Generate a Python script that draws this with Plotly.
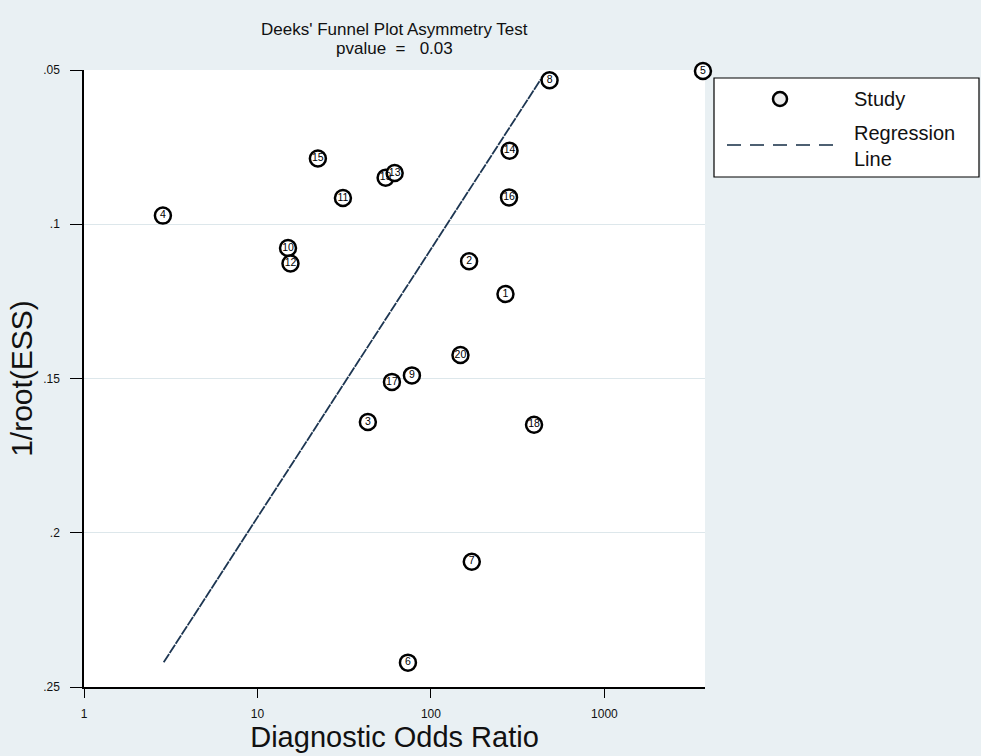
import plotly.graph_objects as go

# ---- data ----
study_ids = ["1", "2", "3", "4", "5", "6", "7", "8", "9", "10",
             "11", "12", "13", "14", "15", "16", "17", "18", "19", "20"]
dor = [269, 166, 43.3, 2.85, 3700, 73.7, 172, 483, 77.7, 15.0,
       31.1, 15.5, 61.8, 284, 22.3, 282, 59.6, 393, 54.8, 148]
inv_root_ess = [0.1226, 0.1120, 0.1641, 0.0972, 0.0503, 0.2421, 0.2094, 0.0533, 0.1490, 0.1077,
                0.0915, 0.1127, 0.0834, 0.0762, 0.0787, 0.0913, 0.1511, 0.1650, 0.0849, 0.1424]

reg_x = [2.88, 430]
reg_y = [0.242, 0.053]

x_tickvals = [1, 10, 100, 1000]
x_ticktext = ["1", "10", "100", "1000"]
y_tickvals = [0.05, 0.10, 0.15, 0.20, 0.25]
y_ticktext = [".05", ".1", ".15", ".2", ".25"]

title_line1 = "Deeks' Funnel Plot Asymmetry Test"
title_line2 = "pvalue  =   0.03"

# ---- layout geometry (pixels) ----
W, H = 981, 756
L, R, T, B = 84, 276, 70, 69
PW, PH = W - L - R, H - T - B


def px(x):
    return (x - L) / PW


def py(y):
    return (H - B - y) / PH


FONT = "Arial, Liberation Sans, sans-serif"
BG = "#e9f0f3"
LINE_COL = "#1d3652"

fig = go.Figure()

# regression line
fig.add_trace(go.Scatter(
    x=reg_x, y=reg_y, mode="lines", name="Regression Line",
    line=dict(color=LINE_COL, width=1.8, dash="10px,1px"),
    showlegend=False, hoverinfo="skip",
))

# studies (this order keeps 13 on top of 19)
order = [18] + [i for i in range(20) if i != 18]
fig.add_trace(go.Scatter(
    x=[dor[i] for i in order], y=[inv_root_ess[i] for i in order],
    text=[study_ids[i] for i in order],
    mode="markers+text", name="Study",
    marker=dict(symbol="circle", size=16, color="white",
                line=dict(color="black", width=2.5)),
    textposition="middle center",
    textfont=dict(family=FONT, size=10.5, color="black"),
    cliponaxis=False, showlegend=False,
))

# ---- manual legend ----
shapes = [
    dict(type="rect", xref="paper", yref="paper",
         x0=px(714), x1=px(979), y0=py(177), y1=py(78),
         fillcolor="white", line=dict(color="black", width=1.2), layer="above"),
    dict(type="circle", xref="paper", yref="paper",
         x0=px(773), x1=px(787), y0=py(106), y1=py(92),
         fillcolor="#eeeeee", line=dict(color="black", width=2.5), layer="above"),
    dict(type="line", xref="paper", yref="paper",
         x0=px(727), x1=px(835), y0=py(145), y1=py(145),
         line=dict(color="#4d6072", width=2, dash="14px,9px"), layer="above"),
]

annotations = [
    dict(xref="paper", yref="paper", x=px(852), y=py(99), text="Study",
         showarrow=False, xanchor="left", yanchor="middle",
         font=dict(family=FONT, size=20, color="#111111")),
    dict(xref="paper", yref="paper", x=px(852), y=py(146), text="Regression<br>Line",
         showarrow=False, xanchor="left", yanchor="middle", align="left",
         font=dict(family=FONT, size=20, color="#111111")),
    dict(xref="paper", yref="paper", x=0.5, y=py(30), text=title_line1,
         showarrow=False, xanchor="center", yanchor="middle",
         font=dict(family=FONT, size=17, color="#111111")),
    dict(xref="paper", yref="paper", x=0.5, y=py(48), text=title_line2,
         showarrow=False, xanchor="center", yanchor="middle",
         font=dict(family=FONT, size=17, color="#111111")),
]

fig.update_layout(
    width=W, height=H,
    margin=dict(l=L, r=R, t=T, b=B, autoexpand=False),
    paper_bgcolor=BG, plot_bgcolor="white",
    showlegend=False,
    shapes=shapes, annotations=annotations,
    font=dict(family=FONT, color="#111111"),
)

fig.update_xaxes(
    type="log", range=[0, 3.58],
    tickvals=x_tickvals, ticktext=x_ticktext,
    showgrid=False, zeroline=False,
    showline=True, linecolor="black", linewidth=1.5,
    ticks="outside", ticklen=9, tickwidth=1.2, tickcolor="black",
    ticklabelstandoff=6,
    tickfont=dict(family=FONT, size=12, color="#111111"),
    title=dict(text="Diagnostic Odds Ratio", standoff=0,
               font=dict(family=FONT, size=29, color="#111111")),
)

fig.update_yaxes(
    range=[0.25, 0.05],
    tickvals=y_tickvals, ticktext=y_ticktext,
    showgrid=True, gridcolor="#dde7eb", gridwidth=1.2,
    zeroline=False,
    showline=True, linecolor="black", linewidth=1.5,
    ticks="outside", ticklen=12, tickwidth=1.2, tickcolor="black",
    ticklabelstandoff=8,
    tickfont=dict(family=FONT, size=12, color="#111111"),
    title=dict(text="1/root(ESS)", standoff=2,
               font=dict(family=FONT, size=30, color="#111111")),
)

fig.write_html("out.html", config={"displayModeBar": False})

# remove the browser's default page margin so the figure sits at (0, 0)
with open("out.html", "r", encoding="utf-8") as f:
    html = f.read()
html = html.replace("<body>", '<body style="margin:0;padding:0;">', 1)
with open("out.html", "w", encoding="utf-8") as f:
    f.write(html)
